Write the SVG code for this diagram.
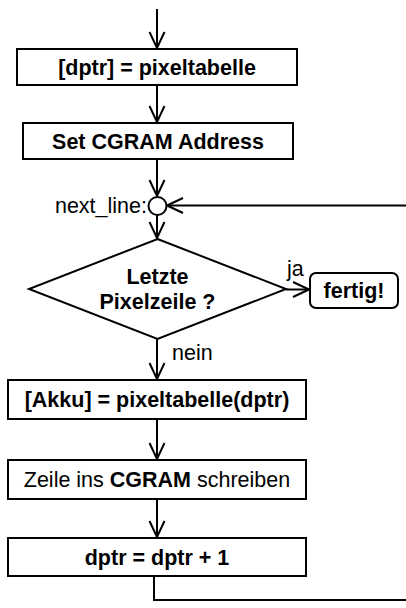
<svg xmlns="http://www.w3.org/2000/svg" width="406" height="608" viewBox="0 0 406 608">
<defs>
<style>
.box{fill:#fff;stroke:#000;stroke-width:2}
.ln{fill:none;stroke:#000;stroke-width:2}
.t{font-family:"Liberation Sans",Arial,sans-serif;font-size:21.5px;fill:#000;text-anchor:middle}
.b{font-weight:bold}
.l{font-family:"Liberation Sans",Arial,sans-serif;font-size:21.5px;fill:#000}
</style>
<marker id="arr" viewBox="-18 -10 20 20" refX="0" refY="0" markerWidth="20" markerHeight="20" markerUnits="userSpaceOnUse" orient="auto">
<path d="M-16,-7.5 L0,0 L-16,7.5" fill="none" stroke="#000" stroke-width="2"/>
</marker>
</defs>
<g id="connectors">
<path class="ln" d="M157,9 V48" marker-end="url(#arr)"/>
<path class="ln" d="M157,85 V122" marker-end="url(#arr)"/>
<path class="ln" d="M157,159 V196" marker-end="url(#arr)"/>
<path class="ln" d="M406,205.5 H167" marker-end="url(#arr)"/>
<path class="ln" d="M157,215 V238" marker-end="url(#arr)"/>
<path class="ln" d="M286,289.5 H309" marker-end="url(#arr)"/>
<path class="ln" d="M157,339 V379" marker-end="url(#arr)"/>
<path class="ln" d="M157,419 V459" marker-end="url(#arr)"/>
<path class="ln" d="M157,499 V537" marker-end="url(#arr)"/>
<path class="ln" d="M154,576 V600 H406"/>
<text class="l" x="287" y="276">ja</text>
<text class="l" x="172" y="360">nein</text>
</g>
<g id="n1">
<rect class="box" x="17" y="49" width="280" height="36"/>
<text class="t b" x="157" y="74.5">[dptr] = pixeltabelle</text>
</g>
<g id="n2">
<rect class="box" x="23" y="123" width="270" height="36"/>
<text class="t b" x="158" y="148.5">Set CGRAM Address</text>
</g>
<g id="next_line">
<circle class="box" cx="157.5" cy="206" r="9"/>
<text class="l" x="147" y="213" text-anchor="end">next_line:</text>
</g>
<g id="decision">
<polygon class="box" points="157.5,239 286,289 157.5,339 29,289"/>
<text class="t b" x="157.5" y="284">Letzte</text>
<text class="t b" x="157.5" y="309">Pixelzeile ?</text>
</g>
<g id="fertig">
<rect class="box" x="310" y="273" width="88" height="35" rx="6"/>
<text class="t b" x="354" y="297.5">fertig!</text>
</g>
<g id="n3">
<rect class="box" x="8" y="380" width="298" height="39"/>
<text class="t b" x="157" y="407">[Akku] = pixeltabelle(dptr)</text>
</g>
<g id="n4">
<rect class="box" x="8" y="460" width="298" height="39"/>
<text class="t" x="157" y="487">Zeile ins <tspan font-weight="bold">CGRAM</tspan> schreiben</text>
</g>
<g id="n5">
<rect class="box" x="8" y="538" width="298" height="38"/>
<text class="t b" x="157" y="564.5">dptr = dptr + 1</text>
</g>
</svg>
